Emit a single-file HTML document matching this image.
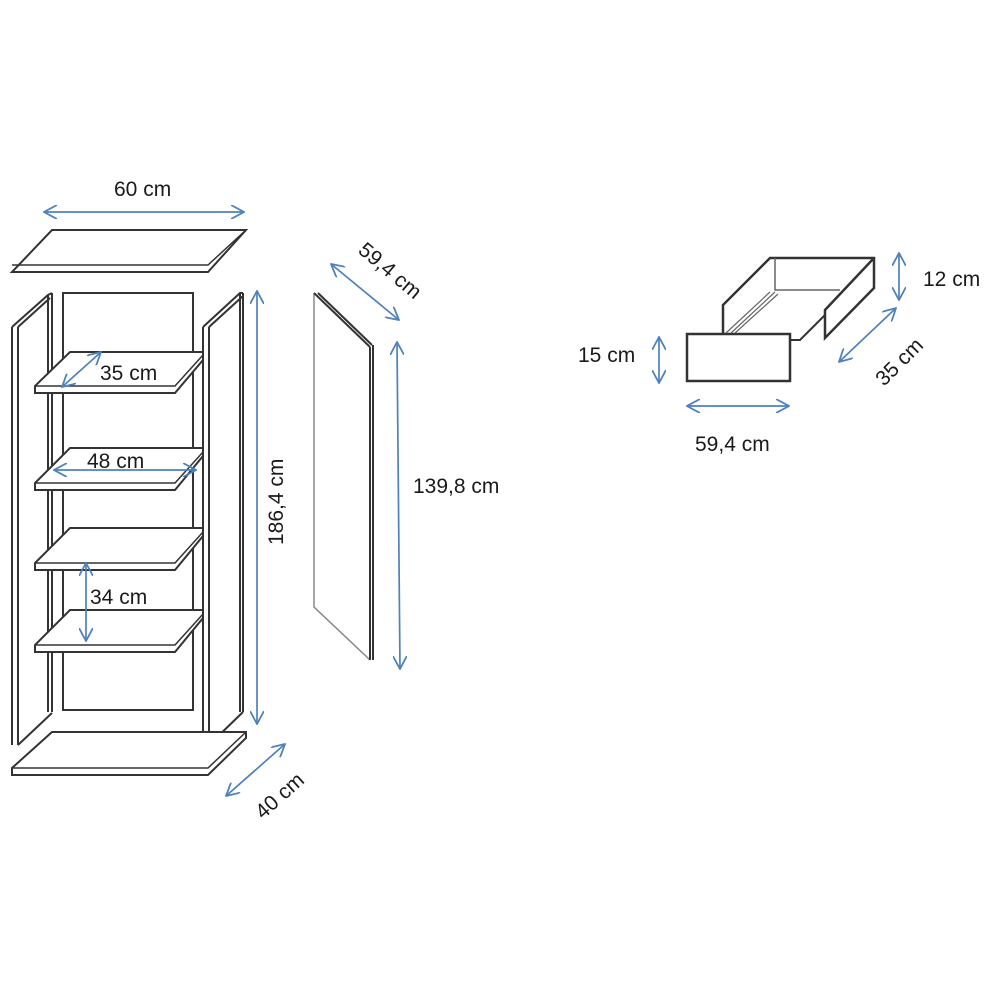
<!DOCTYPE html>
<html><head><meta charset="utf-8"><style>
html,body{margin:0;padding:0;background:#fff;}
svg{display:block}
text{font-family:"Liberation Sans",sans-serif;font-size:21px;fill:#1a1a1a}
</style></head><body>
<svg width="1000" height="1000" viewBox="0 0 1000 1000" xmlns="http://www.w3.org/2000/svg">
<defs>
<marker id="a" viewBox="0 0 14 14" refX="13" refY="7" markerWidth="14" markerHeight="14" markerUnits="userSpaceOnUse" orient="auto-start-reverse">
<path d="M0,0 L13,7 L0,14" fill="none" stroke="#4f81bd" stroke-width="1.8"/>
</marker>
</defs>
<g fill="none" stroke="#333" stroke-width="2">
<path d="M52,230 L246,230 L208,272 L12,272 Z"/>
<path d="M12,265 L208,265 L246,230" stroke-width="1.5"/>
<path d="M12,327 L12,745 M18,327 L18,745 M12,327 L48,295 L52,293 M18,327 L50,298 M48,295 L48,712 M52,293 L52,712 M18,745 L52,713"/>
<rect x="63" y="293" width="130" height="417"/>
<path d="M203,327 L203,745 M209,327 L209,745 M203,327 L240,293 L243,293 M209,327 L243,296 M240,293 L240,712 M243,293 L243,712 M209,745 L243,712"/>
<g fill="#fff">
<path d="M70,352 L203,352 L203,360 L175,393 L35,393 L35,386 Z"/>
<path d="M70,448 L203,448 L203,456 L175,490 L35,490 L35,483 Z"/>
<path d="M70,528 L203,528 L203,536 L175,570 L35,570 L35,563 Z"/>
<path d="M70,610 L203,610 L203,618 L175,652 L35,652 L35,645 Z"/>
</g>
<path d="M35,386 L175,386 L203,355 M35,483 L175,483 L203,452 M35,563 L175,563 L203,532 M35,645 L175,645 L203,614" stroke-width="1.5"/>
<path d="M52,732 L246,732 L246,738 L208,775 L12,775 L12,768 Z" fill="#fff"/>
<path d="M12,768 L208,768 L246,732" stroke-width="1.5"/>
<path d="M314,293 L314,607 L370,660" stroke="#888" stroke-width="1.5"/>
<path d="M314,293 L370,347 M318,293 L372,345 M370,347 L370,660 M373,345 L373,660"/>
<rect x="687" y="334" width="103" height="47" stroke-width="2.5"/>
<path d="M723,333 L723,305 L770,258 L874,258 L874,288 L825,338 L825,310 L874,258" stroke-width="2.5"/>
<path d="M790,340 L800,340 L825,315" stroke-width="2"/>
<path d="M775,258 L775,290 L840,290" stroke="#666" stroke-width="1.5"/>
<path d="M726,333 L770,292 M731,333 L775,292 M735,333 L778,294" stroke="#666" stroke-width="1.2"/>
</g>
<g stroke="#4f81bd" stroke-width="1.7" fill="none" marker-start="url(#a)" marker-end="url(#a)">
<line x1="44" y1="212" x2="244" y2="212"/>
<line x1="62" y1="387" x2="101" y2="352"/>
<line x1="54" y1="470" x2="196" y2="470"/>
<line x1="86" y1="563" x2="86" y2="641"/>
<line x1="257" y1="291" x2="257" y2="724"/>
<line x1="226" y1="796" x2="285" y2="744"/>
<line x1="331" y1="264" x2="399" y2="320"/>
<line x1="397" y1="342" x2="400" y2="669"/>
<line x1="659" y1="337" x2="659" y2="383"/>
<line x1="687" y1="406" x2="789" y2="406"/>
<line x1="899" y1="253" x2="899" y2="300"/>
<line x1="839" y1="362" x2="896" y2="308"/>
</g>
<text x="114" y="196">60 cm</text>
<text x="100" y="380">35 cm</text>
<text x="87" y="468">48 cm</text>
<text x="90" y="604">34 cm</text>
<text transform="translate(283,545) rotate(-90)">186,4 cm</text>
<text transform="translate(263,820) rotate(-42)">40 cm</text>
<text transform="translate(357,252) rotate(40)">59,4 cm</text>
<text x="413" y="493">139,8 cm</text>
<text x="578" y="362">15 cm</text>
<text x="695" y="451">59,4 cm</text>
<text x="923" y="286">12 cm</text>
<text transform="translate(884,387) rotate(-45)">35 cm</text>
</svg>
</body></html>
